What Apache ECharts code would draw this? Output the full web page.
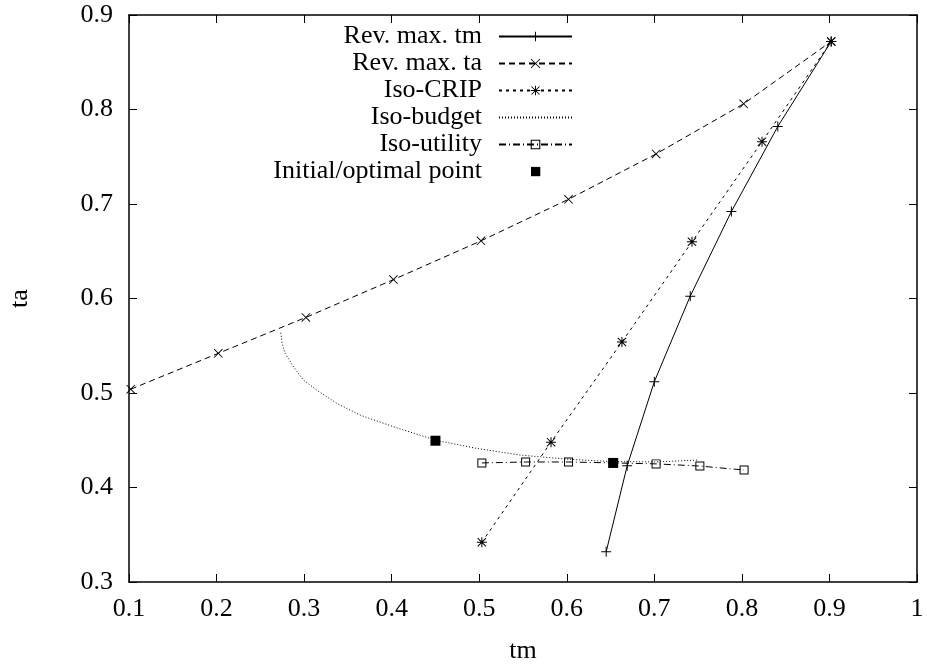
<!DOCTYPE html>
<html><head><meta charset="utf-8">
<script src="https://cdn.jsdelivr.net/npm/echarts@6/dist/echarts.min.js"></script>
<style>html,body{margin:0;padding:0;background:#fff}#c{width:927px;height:666px}</style>
</head><body><div id="c"></div>
<script>
const xTicks = [0.1,0.2,0.3,0.4,0.5,0.6,0.7,0.8,0.9,1];
const yTicks = [0.3,0.4,0.5,0.6,0.7,0.8,0.9];
const revTmX = [0.645,0.669,0.700,0.741,0.788,0.841,0.902];
const revTmY = [0.332,0.423,0.512,0.6025,0.692,0.782,0.872];
const revTaX = [0.102,0.202,0.302,0.402,0.502,0.602,0.702,0.802,0.902];
const revTaY = [0.504,0.542,0.580,0.620,0.661,0.705,0.753,0.806,0.872];
const isoCripX = [0.503,0.582,0.663,0.743,0.823,0.902];
const isoCripY = [0.342,0.448,0.554,0.660,0.766,0.872];
const budgetX = [0.2734,0.275,0.2783,0.2878,0.2992,0.3145,0.3374,0.364,0.402,0.4505,0.497,0.547,0.600,0.650,0.700,0.750];
const budgetY = [0.5637,0.552,0.542,0.5277,0.5137,0.503,0.489,0.4766,0.4643,0.450,0.4414,0.4343,0.430,0.4275,0.427,0.429];
const utilityX = [0.503,0.553,0.602,0.653,0.702,0.752,0.8025];
const utilityY = [0.426,0.427,0.427,0.426,0.425,0.4227,0.4185];
const pointX = [0.450,0.653];
const pointY = [0.4495,0.426];
const legendNames = ['Rev. max. tm', 'Rev. max. ta', 'Iso-CRIP', 'Iso-budget', 'Iso-utility', 'Initial/optimal point'];

const zip = (xs, ys) => xs.map((x, i) => [x, ys[i]]);
const PLUS = 'path://M0,4.5H10V5.5H0Z M4.5,0H5.5V10H4.5Z';
const CROSS = 'path://M0,0.7L0.7,0L10,9.3L9.3,10Z M9.3,0L10,0.7L0.7,10L0,9.3Z';
const STAR = 'path://M0,4.5H10V5.5H0Z M4.5,0H5.5V10H4.5Z M0.5,1.2L1.2,0.5L9.5,8.8L8.8,9.5Z M8.8,0.5L9.5,1.2L1.2,9.5L0.5,8.8Z';
const BOX = 'path://M0,0H10V10H0Z M1.1,1.1V8.9H8.9V1.1Z';
const LEG_SQUARE = 'path://M0,0 M73,12 M32,1.4H41.3V10.7H32Z';
const FONT = '"Liberation Serif", "DejaVu Serif", serif';
const FS = 26;

const chart = echarts.init(document.getElementById('c'), null, {renderer: 'canvas'});
const axisCommon = {
  type: 'value', min: 0.1, max: 1, interval: 0.1,
  axisLine: {show: true, onZero: false, lineStyle: {color: '#000', width: 1.5}},
  axisTick: {show: true, inside: true, length: 8, lineStyle: {color: '#000', width: 1}},
  splitLine: {show: false}
};
const lineSeries = (name, xs, ys, sym, size, dash, col) => ({
  name, type: 'line', data: zip(xs, ys), symbol: sym, symbolSize: size,
  showSymbol: size > 0, animation: false,
  itemStyle: {color: col || '#000'},
  lineStyle: {color: '#000', width: 1, type: dash}
});
chart.setOption({
  animation: false,
  textStyle: {fontFamily: FONT},
  grid: {left: 129, right: 10, top: 15, bottom: 84, containLabel: false, outerBoundsMode: 'none'},
  xAxis: [
    Object.assign({}, axisCommon, {
      name: 'tm', nameLocation: 'middle', nameGap: 56,
      nameTextStyle: {fontFamily: FONT, fontSize: FS, color: '#000'},
      axisLabel: {fontFamily: FONT, fontSize: FS, color: '#000', margin: 14,
        formatter: v => { const t = xTicks.find(k => Math.abs(k - v) < 1e-6); return t === undefined ? '' : String(t); }}
    }),
    Object.assign({}, axisCommon, {position: 'top', axisLabel: {show: false}})
  ],
  yAxis: [
    Object.assign({}, axisCommon, {
      min: 0.3, max: 0.9,
      name: 'ta', nameLocation: 'middle', nameGap: 96, nameRotate: 90,
      nameTextStyle: {fontFamily: FONT, fontSize: FS, color: '#000'},
      axisLabel: {fontFamily: FONT, fontSize: FS, color: '#000', margin: 16,
        formatter: v => { const t = yTicks.find(k => Math.abs(k - v) < 1e-6); return t === undefined ? '' : String(t); }}
    }),
    Object.assign({}, axisCommon, {min: 0.3, max: 0.9, position: 'right', axisLabel: {show: false}})
  ],
  legend: {
    orient: 'vertical', right: 354, top: 23, align: 'right', padding: 0,
    itemWidth: 73, itemHeight: 12, itemGap: 0,
    selectedMode: false,
    textStyle: {fontFamily: FONT, fontSize: FS, color: '#000', width: 300, align: 'right', padding: [0, 12, 0, 0], lineHeight: 27},
    data: legendNames.map((n, i) => i === 5 ? {name: n, icon: LEG_SQUARE} : {name: n})
  },
  series: [
    lineSeries(legendNames[0], revTmX, revTmY, PLUS, 10, 'solid'),
    lineSeries(legendNames[1], revTaX, revTaY, CROSS, 9, [6, 4]),
    lineSeries(legendNames[2], isoCripX, isoCripY, STAR, 10, [3, 4]),
    lineSeries(legendNames[3], budgetX, budgetY, 'circle', 0, [1, 2], 'rgba(0,0,0,0)'),
    lineSeries(legendNames[4], utilityX, utilityY, BOX, 9, [7, 3, 1, 3]),
    {name: legendNames[5], type: 'scatter', data: zip(pointX, pointY), symbol: 'rect',
     symbolSize: 10, itemStyle: {color: '#000', opacity: 1}, z: 5}
  ]
});
</script></body></html>
